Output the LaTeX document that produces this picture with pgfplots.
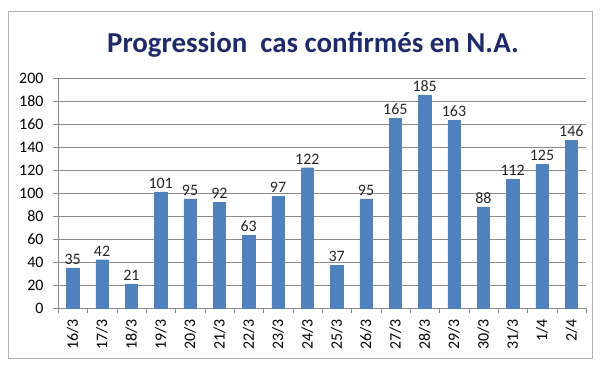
\documentclass[border=0pt]{standalone}
\usepackage{pgfplots}
\pgfplotsset{compat=1.18}
\usepackage{fontspec}
\setmainfont{Carlito}
\definecolor{barblue}{HTML}{4F81BD}
\definecolor{titleblue}{HTML}{1F2A6B}
\definecolor{gridgray}{HTML}{8A8A8A}
\begin{document}
\begin{tikzpicture}[x=1bp,y=1bp]
\path (0,0) rectangle (600,369);
\draw[draw=gray!60, line width=0.8bp] (8,11) rectangle (592,358);
\node[font=\fontsize{29}{32}\selectfont\bfseries, text=titleblue] at (313,324) {Progression\ \ cas confirmés en N.A.};
\begin{axis}[
  at={(58bp,61bp)}, anchor=south west,
  scale only axis, width=528bp, height=230bp,
  ymin=0, ymax=200, ytick={0,20,...,200},
  xmin=-0.5, xmax=17.5,
  xtick={0,...,17},
  xticklabels={16/3,17/3,18/3,19/3,20/3,21/3,22/3,23/3,24/3,25/3,26/3,27/3,28/3,29/3,30/3,31/3,1/4,2/4},
  minor xtick={-0.5,0.5,...,17.5},
  major x tick style={draw=none},
  minor x tick style={draw=gridgray},
  minor tick length=5bp,
  x tick label style={rotate=90, anchor=east, yshift=0bp, xshift=-3bp, font=\fontsize{16}{18}\selectfont},
  y tick label style={font=\fontsize{16}{18}\selectfont, xshift=-6bp},
  /pgf/number format/assume math mode=true,
  ytick style={draw=gridgray},
  tick align=outside,
  major tick length=5bp,
  ymajorgrids, grid style={draw=gridgray, line width=0.6bp},
  axis x line*=bottom, axis y line*=left,
  axis line style={draw=gridgray, line width=0.8bp, -},
  ybar, bar width=12.5bp,
  nodes near coords,
  every node near coord/.append style={font=\fontsize{16}{18}\selectfont, text=black!85},
  clip=false,
]
\addplot[fill=barblue, draw=barblue] coordinates {
(0,35) (1,42) (2,21) (3,101) (4,95) (5,92) (6,63) (7,97) (8,122) (9,37) (10,95) (11,165) (12,185) (13,163) (14,88) (15,112) (16,125) (17,146)};
\end{axis}
\end{tikzpicture}
\end{document}
